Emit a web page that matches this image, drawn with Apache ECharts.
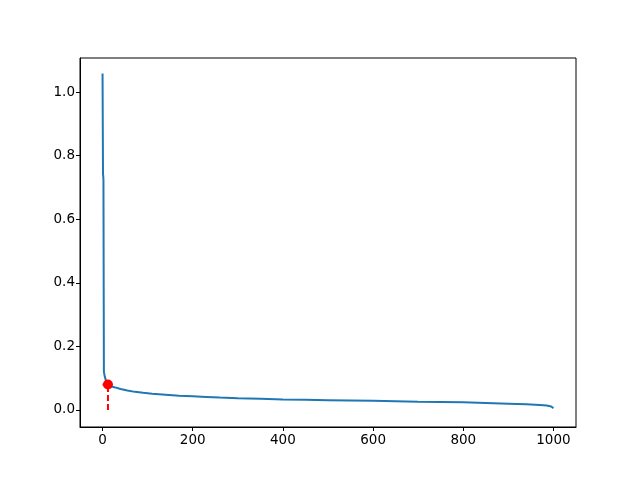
<!DOCTYPE html>
<html>
<head>
<meta charset="utf-8">
<script src="https://cdn.jsdelivr.net/npm/echarts@6/dist/echarts.min.js"></script>
<style>html,body{margin:0;padding:0;background:#fff}#c{width:640px;height:480px}</style>
</head>
<body>
<div id="c"></div>
<script>
var curveX = [0, 1, 2, 3, 5, 8, 12, 20, 28, 40, 55, 72, 90, 110, 140, 170, 200, 230, 260, 300, 350, 400, 450, 500, 550, 600, 650, 700, 750, 800, 850, 900, 940, 970, 985, 995, 1000];
var curveY = [1.058, 0.745, 0.725, 0.12, 0.105, 0.09, 0.08, 0.074, 0.071, 0.066, 0.061, 0.057, 0.054, 0.051, 0.048, 0.045, 0.043, 0.041, 0.039, 0.037, 0.035, 0.033, 0.032, 0.031, 0.030, 0.029, 0.0275, 0.026, 0.025, 0.024, 0.022, 0.020, 0.018, 0.016, 0.014, 0.011, 0.006];
var markX = 12;
var markY = 0.08;
var xTicks = [0, 200, 400, 600, 800, 1000];
var yTicks = [0, 0.2, 0.4, 0.6, 0.8, 1.0];

var curve = curveX.map(function (x, i) { return [x, curveY[i]]; });
var chart = echarts.init(document.getElementById('c'), null, {renderer: 'canvas'});
var font = 'DejaVu Sans';
chart.setOption({
  animation: false,
  grid: {left: 80, top: 58, right: 64, bottom: 53, show: true, borderColor: '#000', borderWidth: 1, backgroundColor: 'transparent'},
  xAxis: {
    type: 'value', min: -50, max: 1050,
    axisLine: {show: true, onZero: false, lineStyle: {color: '#000', width: 1}},
    axisTick: {show: true, inside: false, length: 4, lineStyle: {color: '#000'}, customValues: xTicks},
    axisLabel: {color: '#000', fontFamily: font, fontSize: 13.5, margin: 6, customValues: xTicks,
      formatter: function (v) { return String(v); }},
    splitLine: {show: false}
  },
  yAxis: {
    type: 'value', min: -0.0535, max: 1.107,
    axisLine: {show: true, onZero: false, lineStyle: {color: '#000', width: 1}},
    axisTick: {show: true, inside: false, length: 4, lineStyle: {color: '#000'}, customValues: yTicks},
    axisLabel: {color: '#000', fontFamily: font, fontSize: 13.5, margin: 5, customValues: yTicks,
      formatter: function (v) { return v.toFixed(1); }},
    splitLine: {show: false}
  },
  series: [
    {type: 'line', data: curve, showSymbol: false, lineStyle: {color: '#1f77b4', width: 2}, z: 2},
    {type: 'line', data: [[markX, 0], [markX, markY]], showSymbol: false, lineStyle: {color: '#ff0000', width: 2, type: [6, 3]}, z: 3},
    {type: 'line', data: [[0, markY], [markX, markY]], showSymbol: false, lineStyle: {color: '#ff0000', width: 2, type: [6, 3]}, z: 3},
    {type: 'scatter', data: [[markX, markY]], symbolSize: 10, itemStyle: {color: '#ff0000', opacity: 1}, z: 4}
  ]
});
</script>
</body>
</html>
